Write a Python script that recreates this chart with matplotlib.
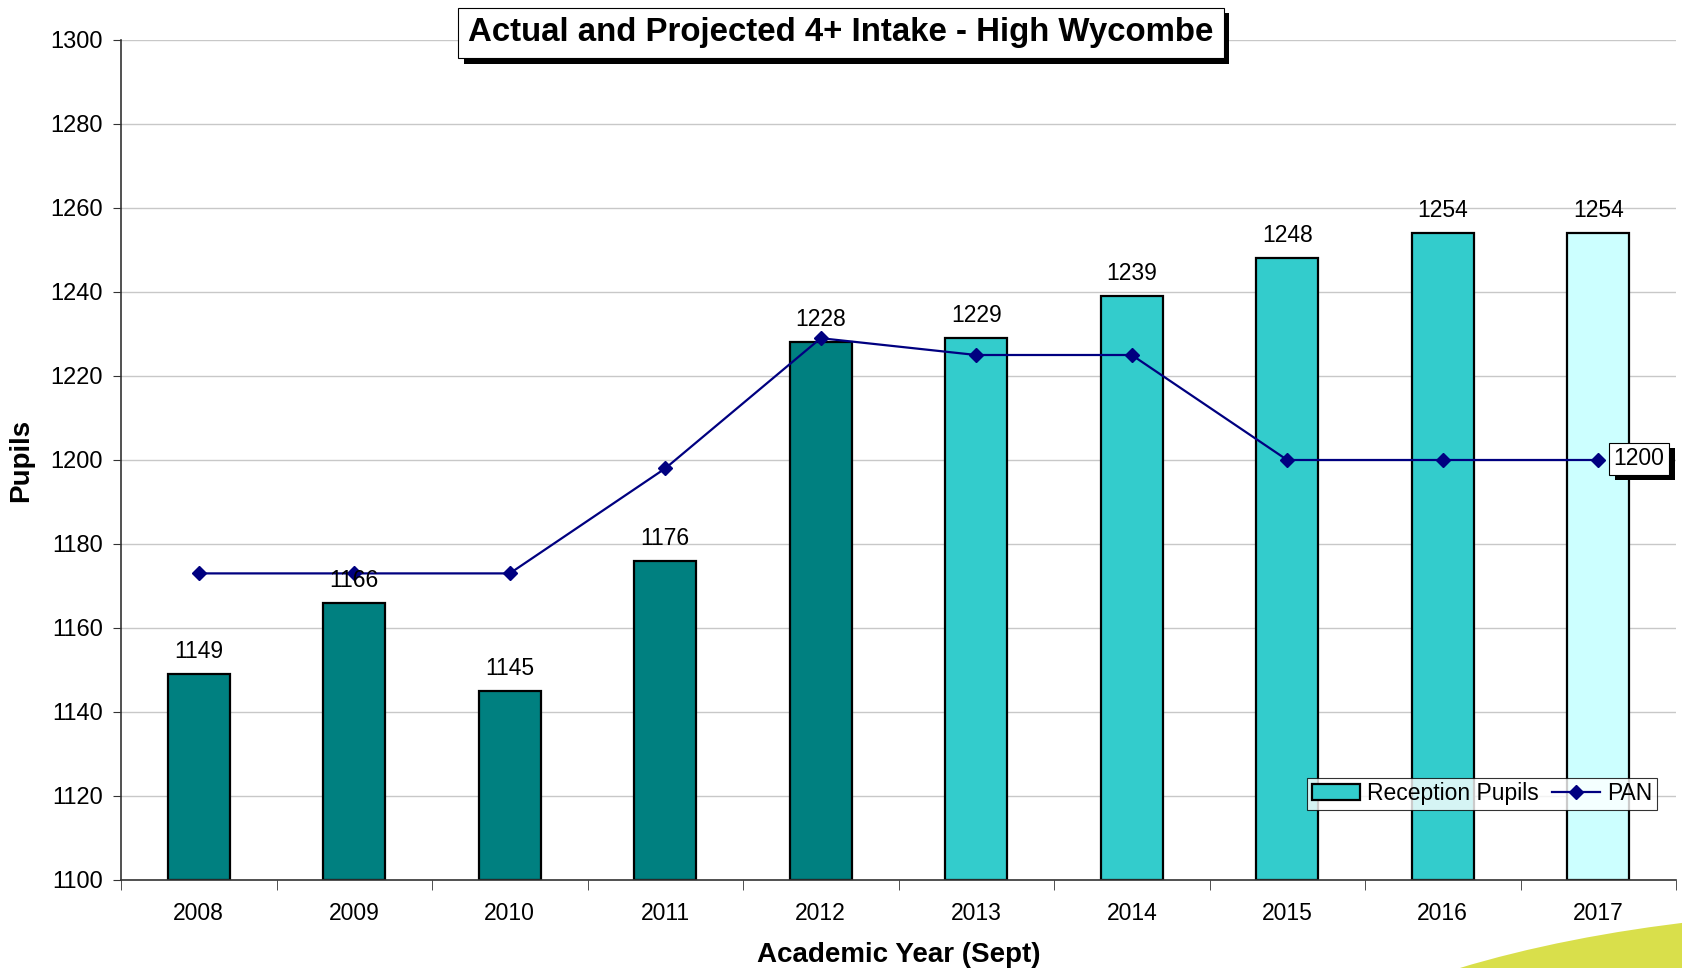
import matplotlib
matplotlib.use("Agg")
import matplotlib.pyplot as plt
from matplotlib.patches import Ellipse, Rectangle
from matplotlib.lines import Line2D
import matplotlib.patheffects as pe

plt.rcParams['font.family'] = ['Liberation Sans', 'DejaVu Sans']

years = ['2008', '2009', '2010', '2011', '2012', '2013', '2014', '2015', '2016', '2017']
reception = [1149, 1166, 1145, 1176, 1228, 1229, 1239, 1248, 1254, 1254]
pan = [1173, 1173, 1173, 1198, 1229, 1225, 1225, 1200, 1200, 1200]
bar_colors = ['#008080'] * 5 + ['#33CCCC'] * 4 + ['#CCFFFF']

fig = plt.figure(figsize=(16.82, 9.68), dpi=100)
ax = fig.add_axes([121/1682, 88/968, (1676-121)/1682, (880-40)/968])

x = list(range(len(years)))
ax.bar(x, [r - 1100 for r in reception], bottom=1100, width=0.4, color=bar_colors,
       edgecolor='black', linewidth=1.6, zorder=2)
ax.plot(x, pan, color='#000080', linewidth=1.6, marker='D', markersize=7, zorder=3)

for xi, r in zip(x, reception):
    ax.annotate(str(r), (xi, r), xytext=(0, 8), textcoords='offset points',
                ha='center', va='bottom', fontsize=16.5, zorder=4)

t = ax.annotate(str(pan[-1]), (x[-1], pan[-1]), xytext=(11, 1), textcoords='offset points',
                ha='left', va='center', fontsize=16.5, zorder=5,
                bbox=dict(boxstyle='square,pad=0.2', facecolor='white', edgecolor='black', linewidth=0.8))
t.get_bbox_patch().set_path_effects([pe.withSimplePatchShadow(offset=(4, -4), shadow_rgbFace='black', alpha=1.0)])

ax.set_xlim(-0.5, 9.5)
ax.set_ylim(1100, 1300)
ax.set_yticks(range(1100, 1301, 20))
ax.set_xticks(x)
ax.set_xticklabels(years)
ax.set_xticks([i - 0.5 for i in range(11)], minor=True)
ax.tick_params(axis='x', which='major', length=0, labelsize=16.5, pad=16)
ax.tick_params(axis='x', which='minor', length=7, direction='out', color='#333333')
ax.tick_params(axis='y', length=6, direction='out', labelsize=17, color='#333333', pad=7)
ax.yaxis.grid(True, color='#c8c8c8', linewidth=1)
ax.set_axisbelow(True)
for s in ['top', 'right']:
    ax.spines[s].set_visible(False)
for s in ['left', 'bottom']:
    ax.spines[s].set_color('#333333')
    ax.spines[s].set_linewidth(1.2)

ax.set_ylabel('Pupils', fontsize=20, fontweight='bold', labelpad=12)
ax.set_xlabel('Academic Year (Sept)', fontsize=20, fontweight='bold', labelpad=12)

title = fig.text(0.5, 1 - 33/968, 'Actual and Projected 4+ Intake - High Wycombe',
                 ha='center', va='center', fontsize=23.8, fontweight='bold',
                 bbox=dict(boxstyle='square,pad=0.3', facecolor='white', edgecolor='black', linewidth=0.8))
title.get_bbox_patch().set_path_effects([pe.withSimplePatchShadow(offset=(4, -4), shadow_rgbFace='black', alpha=1.0)])

handles = [Rectangle((0, 0), 1, 1, facecolor='#33CCCC', edgecolor='black', linewidth=1.6),
           Line2D([], [], color='#000080', linewidth=1.6, marker='D', markersize=7)]
leg = ax.legend(handles, ['Reception Pupils', 'PAN'], loc='lower left',
                bbox_to_anchor=(1307/1682, (968-810)/968), bbox_transform=fig.transFigure,
                ncol=2, fontsize=16.5, frameon=True, fancybox=False, edgecolor='black',
                borderaxespad=0, handlelength=2.1, handletextpad=0.3, columnspacing=0.6,
                borderpad=0.2)
leg.get_frame().set_linewidth(0.8)
leg.set_zorder(6)

fig.add_artist(Ellipse((1900/1682, -200/968), 1394/1682, 516/968,
                       transform=fig.transFigure, facecolor='#d9df4b', edgecolor='none', zorder=0))

fig.savefig('out.png', dpi=100)
